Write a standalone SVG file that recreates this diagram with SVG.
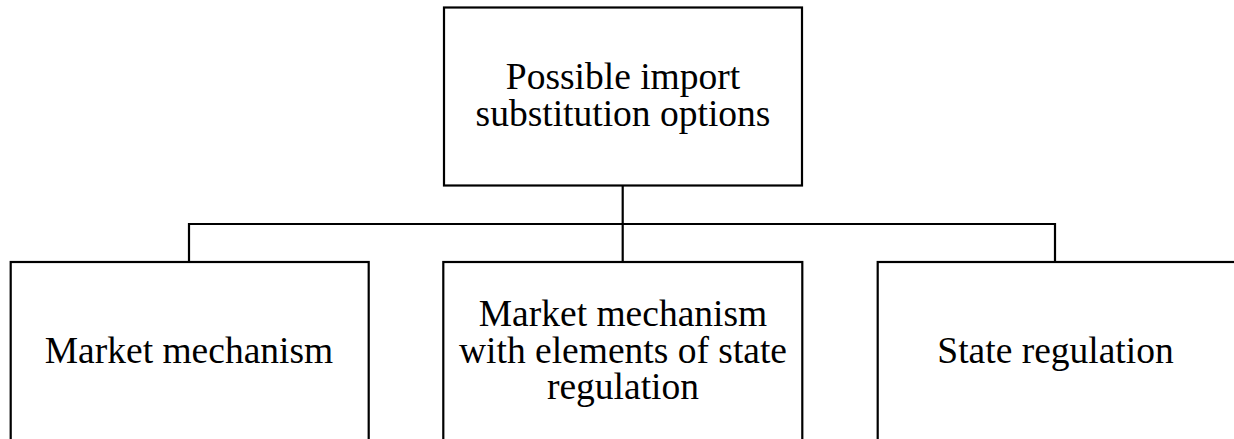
<svg xmlns="http://www.w3.org/2000/svg" width="1234" height="439" viewBox="0 0 1234 439">
<style>
.box{fill:#fff;stroke:#000;stroke-width:2.2}
.conn{fill:none;stroke:#000;stroke-width:2.2}
.t{font-family:'Liberation Serif','DejaVu Serif',serif;font-size:37.5px;fill:#000;text-anchor:middle}
</style>
<rect width="1234" height="439" fill="#fff"/>
<g id="connectors">
<line class="conn" x1="622.7" y1="185.5" x2="622.7" y2="262"/>
<polyline class="conn" points="189,262 189,224 1055,224 1055,262"/>
</g>
<g id="node-top">
<rect class="box" x="444" y="7.5" width="358" height="178"/>
<text class="t" x="623" y="88.5">Possible import</text>
<text class="t" x="623" y="126">substitution options</text>
</g>
<g id="node-market">
<rect class="box" x="10.7" y="262" width="358" height="200"/>
<text class="t" x="189" y="362.5">Market mechanism</text>
</g>
<g id="node-mixed">
<rect class="box" x="443.3" y="262" width="359" height="200"/>
<text class="t" x="623" y="326">Market mechanism</text>
<text class="t" x="623" y="362.5">with elements of state</text>
<text class="t" x="623" y="399.3">regulation</text>
</g>
<g id="node-state">
<rect class="box" x="877.7" y="262" width="360" height="200"/>
<text class="t" x="1055.5" y="362.5">State regulation</text>
</g>
</svg>
